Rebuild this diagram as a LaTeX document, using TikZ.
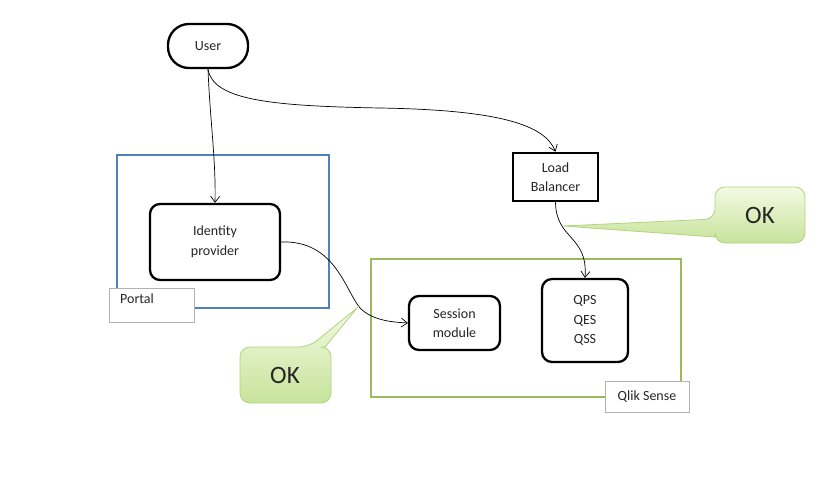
\documentclass[tikz,border=0pt]{standalone}
\usepackage{fontspec}
\setmainfont{Carlito}
\usetikzlibrary{arrows.meta}
\definecolor{portalblue}{HTML}{4F81BD}
\definecolor{qlikgreen}{HTML}{9BBB59}
\definecolor{calloutedge}{HTML}{B3D47F}
\definecolor{callouttop}{HTML}{F4FAE4}
\definecolor{calloutbot}{HTML}{C6E39A}
\definecolor{txtcol}{HTML}{262626}
\tikzset{
  x=1pt, y=-1pt,
  txt/.style={font=\fontsize{14}{19.5}\selectfont, text=txtcol, align=center, inner sep=0pt},
  rbox/.style={txt, draw=black, line width=2.3pt, rounded corners=10pt},
  sbox/.style={txt, draw=black, line width=2.5pt},
  grp/.style={line width=2.8pt},
  lbl/.style={txt, draw=black!30, fill=white, line width=0.6pt},
  conn/.style={black, line width=0.7pt, -{Straight Barb[length=6pt,width=9pt]}},
  callout/.style={draw=calloutedge, line width=0.8pt, top color=callouttop, bottom color=calloutbot},
  oktxt/.style={font=\fontsize{25}{28}\selectfont, text=txtcol, inner sep=0pt}
}
\begin{document}
\begin{tikzpicture}
\useasboundingbox (0,0) rectangle (835,489);
\fill[white] (0,0) rectangle (835,489);

% groups
\draw[grp, portalblue] (117,155) rectangle (329,308);
\draw[grp, qlikgreen] (371,259) rectangle (681,397);

% nodes
\node[txt, draw=black, line width=2.3pt, rounded corners=21pt, minimum width=80pt, minimum height=44pt] (user) at (208,46) {User};
\node[rbox, minimum width=130pt, minimum height=76pt] (idp) at (215,242) {Identity\\provider};
\node[sbox, minimum width=85pt, minimum height=48pt] (lb) at (555.5,177) {Load\\Balancer};
\node[rbox, minimum width=91pt, minimum height=54pt] (sess) at (454.5,323) {Session\\module};
\node[rbox, minimum width=86pt, minimum height=83pt] (qps) at (585,320.5) {QPS\\QES\\QSS};

% group labels
\node[lbl, minimum width=85pt, minimum height=34pt] (portal) at (151.5,305) {};
\node[txt, anchor=west] (portaltxt) at (120,299) {Portal};
\node[lbl, minimum width=84pt, minimum height=31pt] (qlik) at (647,396.5) {Qlik Sense};

% connectors
\draw[conn] (user.south) .. controls (210,120) and (216,160) .. (idp.north);
\draw[conn] (user.south) .. controls (213,100) and (270,106) .. (380,108)
             .. controls (500,110) and (545,125) .. (lb.north);
\draw[conn] (idp.east) .. controls (335,240) and (345,290) .. (360,308)
             .. controls (372,320) and (390,322) .. (sess.west);
\draw[conn] (lb.south) .. controls (556,240) and (588,235) .. (qps.north);

% callouts
\draw[callout, rounded corners=10pt]
  (805,187) -- (715,187) -- (715,219) [sharp corners] -- (563,226) -- (715,237)
  [rounded corners=10pt] -- (715,243) -- (805,243) -- cycle;
\node[oktxt] (ok1) at (760,215) {OK};
\draw[callout, rounded corners=10pt]
  (240,403) -- (240,347) -- (309,347) [sharp corners] -- (357,308) -- (325,347)
  [rounded corners=10pt] -- (331,347) -- (331,403) -- cycle;
\node[oktxt] (ok2) at (285,375) {OK};
\end{tikzpicture}
\end{document}
